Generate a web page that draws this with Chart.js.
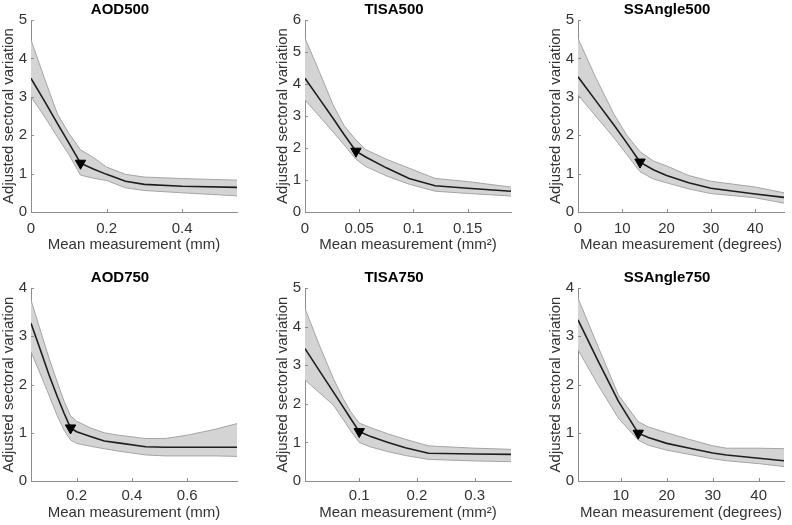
<!DOCTYPE html>
<html>
<head>
<meta charset="utf-8">
<script src="https://cdn.jsdelivr.net/npm/chart.js@4.4.1/dist/chart.umd.min.js"></script>
<style>
    body { margin: 0; background: #fff; width: 792px; height: 525px; overflow: hidden; position: relative; }
    canvas { position: absolute; }
</style>
</head>
<body>
<script>
// AOD500
const aod500X = [0, 0.035, 0.07, 0.1, 0.131, 0.165, 0.2, 0.25, 0.3, 0.4, 0.545];
const aod500Mean = [3.48, 2.9, 2.3, 1.8, 1.27, 1.12, 0.98, 0.8, 0.72, 0.67, 0.64];
const aod500Upper = [4.48, 3.5, 2.55, 2.05, 1.62, 1.42, 1.17, 0.98, 0.91, 0.87, 0.83];
const aod500Lower = [3.0, 2.5, 1.95, 1.5, 0.96, 0.88, 0.82, 0.63, 0.56, 0.5, 0.42];
const aod500Marker = [0.131, 1.27];
const aod500XTicks = [0, 0.2, 0.4];

// TISA500
const tisa500X = [0, 0.013, 0.026, 0.036, 0.047, 0.056, 0.075, 0.096, 0.12, 0.15, 0.19];
const tisa500Mean = [4.18, 3.55, 2.92, 2.42, 1.9, 1.72, 1.38, 1.05, 0.82, 0.74, 0.65];
const tisa500Upper = [5.43, 4.4, 3.34, 2.7, 2.25, 1.95, 1.65, 1.37, 1.05, 0.95, 0.78];
const tisa500Lower = [3.5, 3.0, 2.5, 2.1, 1.65, 1.42, 1.13, 0.87, 0.65, 0.58, 0.5];
const tisa500Marker = [0.047, 1.9];
const tisa500XTicks = [0, 0.05, 0.1, 0.15];

// SSAngle500
const ssangle500X = [0, 4, 8.2, 11, 14, 17, 20, 25, 30, 40, 46.5];
const ssangle500Mean = [3.52, 2.9, 2.25, 1.8, 1.3, 1.1, 0.95, 0.76, 0.62, 0.47, 0.38];
const ssangle500Upper = [4.52, 3.5, 2.53, 2.0, 1.57, 1.33, 1.2, 0.95, 0.8, 0.65, 0.5];
const ssangle500Lower = [3.05, 2.5, 1.92, 1.5, 1.05, 0.86, 0.76, 0.6, 0.48, 0.37, 0.23];
const ssangle500Marker = [14, 1.3];
const ssangle500XTicks = [0, 10, 20, 30, 40];

// AOD750
const aod750X = [0.035, 0.07, 0.1, 0.13, 0.155, 0.178, 0.2, 0.25, 0.3, 0.35, 0.45, 0.52, 0.6, 0.7, 0.78];
const aod750Mean = [3.27, 2.7, 2.2, 1.75, 1.4, 1.1, 1.02, 0.92, 0.83, 0.79, 0.71, 0.7, 0.7, 0.7, 0.7];
const aod750Upper = [3.75, 3.1, 2.55, 2.05, 1.65, 1.35, 1.24, 1.1, 1.0, 0.95, 0.88, 0.88, 0.95, 1.07, 1.19];
const aod750Lower = [2.68, 2.2, 1.78, 1.35, 1.05, 0.85, 0.78, 0.72, 0.67, 0.62, 0.54, 0.52, 0.52, 0.52, 0.51];
const aod750Marker = [0.178, 1.1];
const aod750XTicks = [0.2, 0.4, 0.6];

// TISA750
const tisa750X = [0.006, 0.03, 0.055, 0.072, 0.085, 0.1, 0.12, 0.15, 0.18, 0.22, 0.3, 0.363];
const tisa750Mean = [3.43, 2.88, 2.31, 1.92, 1.62, 1.28, 1.15, 1.0, 0.86, 0.72, 0.7, 0.69];
const tisa750Upper = [4.47, 3.55, 2.66, 2.14, 1.8, 1.5, 1.38, 1.22, 1.08, 0.91, 0.85, 0.82];
const tisa750Lower = [2.62, 2.3, 1.97, 1.6, 1.3, 1.0, 0.88, 0.76, 0.66, 0.56, 0.52, 0.5];
const tisa750Marker = [0.1, 1.28];
const tisa750XTicks = [0.1, 0.2, 0.3];

// SSAngle750
const ssangle750X = [0.7, 5, 9.5, 13.8, 16, 20, 25, 30, 33, 40, 45.5];
const ssangle750Mean = [3.34, 2.5, 1.65, 0.99, 0.9, 0.78, 0.68, 0.58, 0.54, 0.47, 0.42];
const ssangle750Upper = [3.79, 2.8, 1.78, 1.23, 1.12, 1.0, 0.86, 0.73, 0.68, 0.68, 0.67];
const ssangle750Lower = [2.72, 2.0, 1.3, 0.85, 0.74, 0.64, 0.55, 0.46, 0.42, 0.36, 0.3];
const ssangle750Marker = [13.8, 0.99];
const ssangle750XTicks = [10, 20, 30, 40];

const yTicks4 = [0, 1, 2, 3, 4];
const yTicks5 = [0, 1, 2, 3, 4, 5];
const yTicks6 = [0, 1, 2, 3, 4, 5, 6];

const yLabel = 'Adjusted sectoral variation';
const fontFamily = '"Liberation Sans", Arial, Helvetica, sans-serif';

const panels = [
    {title: 'AOD500', xLabel: 'Mean measurement (mm)', x: aod500X, mean: aod500Mean, upper: aod500Upper, lower: aod500Lower,
        marker: aod500Marker, xTicks: aod500XTicks, yTicks: yTicks5, xMin: 0, xMax: 0.545, left: 0, row: 0},
    {title: 'TISA500', xLabel: 'Mean measurement (mm\u00B2)', x: tisa500X, mean: tisa500Mean, upper: tisa500Upper, lower: tisa500Lower,
        marker: tisa500Marker, xTicks: tisa500XTicks, yTicks: yTicks6, xMin: 0, xMax: 0.19, left: 274, row: 0},
    {title: 'SSAngle500', xLabel: 'Mean measurement (degrees)', x: ssangle500X, mean: ssangle500Mean, upper: ssangle500Upper, lower: ssangle500Lower,
        marker: ssangle500Marker, xTicks: ssangle500XTicks, yTicks: yTicks5, xMin: 0, xMax: 46.5, left: 547, row: 0},
    {title: 'AOD750', xLabel: 'Mean measurement (mm)', x: aod750X, mean: aod750Mean, upper: aod750Upper, lower: aod750Lower,
        marker: aod750Marker, xTicks: aod750XTicks, yTicks: yTicks4, xMin: 0.035, xMax: 0.78, left: 0, row: 1},
    {title: 'TISA750', xLabel: 'Mean measurement (mm\u00B2)', x: tisa750X, mean: tisa750Mean, upper: tisa750Upper, lower: tisa750Lower,
        marker: tisa750Marker, xTicks: tisa750XTicks, yTicks: yTicks5, xMin: 0.006, xMax: 0.363, left: 274, row: 1},
    {title: 'SSAngle750', xLabel: 'Mean measurement (degrees)', x: ssangle750X, mean: ssangle750Mean, upper: ssangle750Upper, lower: ssangle750Lower,
        marker: ssangle750Marker, xTicks: ssangle750XTicks, yTicks: yTicks4, xMin: 0.7, xMax: 45.5, left: 547, row: 1}
];

// row geometry: canvas top, canvas height, x-axis box height, tick padding, title bottom padding
const rows = [
    {top: 0, height: 255, axisHeight: 43, tickPad: 8, titlePad: 1},
    {top: 268, height: 257, axisHeight: 44, tickPad: 6, titlePad: 3}
];

// MATLAB style inward tick marks
const inwardTicks = {
    id: 'inwardTicks',
    afterDraw(chart)
    {
        const ctx = chart.ctx;
        const area = chart.chartArea;
        ctx.save();
        ctx.strokeStyle = '#8c8c8c';
        ctx.lineWidth = 1;
        ctx.beginPath();
        chart.scales.x.ticks.forEach(t =>
        {
            const px = Math.round(chart.scales.x.getPixelForValue(t.value)) + 0.5;
            ctx.moveTo(px, area.bottom);
            ctx.lineTo(px, area.bottom - 3);
        });
        chart.scales.y.ticks.forEach(t =>
        {
            const py = Math.round(chart.scales.y.getPixelForValue(t.value)) + 0.5;
            ctx.moveTo(area.left, py);
            ctx.lineTo(area.left + 3, py);
        });
        ctx.stroke();
        ctx.restore();
    }
};

function toPoints(xs, ys)
{
    return xs.map((x, i) => ({x: x, y: ys[i]}));
}

function renderPanel(p)
{
    const row = rows[p.row];
    const canvas = document.createElement('canvas');
    canvas.width = 244;
    canvas.height = row.height;
    canvas.style.left = p.left + 'px';
    canvas.style.top = row.top + 'px';
    document.body.appendChild(canvas);

    const tickFont = {family: fontFamily, size: 15};
    const labelFont = {family: fontFamily, size: 15};

    new Chart(canvas.getContext('2d'), {
        type: 'line',
        data: {
            datasets: [
                {
                    data: toPoints(p.x, p.upper),
                    borderColor: '#a4a4a4',
                    borderWidth: 1,
                    backgroundColor: '#d4d4d4',
                    fill: '+1',
                    pointRadius: 0,
                    tension: 0,
                    order: 3
                },
                {
                    data: toPoints(p.x, p.lower),
                    borderColor: '#a4a4a4',
                    borderWidth: 1,
                    fill: false,
                    pointRadius: 0,
                    tension: 0,
                    order: 2
                },
                {
                    data: toPoints(p.x, p.mean),
                    borderColor: '#1e1e1e',
                    borderWidth: 1.6,
                    fill: false,
                    pointRadius: 0,
                    tension: 0,
                    order: 1
                },
                {
                    type: 'scatter',
                    data: [{x: p.marker[0], y: p.marker[1]}],
                    pointStyle: 'triangle',
                    rotation: 180,
                    pointRadius: 6,
                    backgroundColor: '#000',
                    borderColor: '#000',
                    order: 0
                }
            ]
        },
        options: {
            responsive: false,
            animation: false,
            events: [],
            layout: {padding: {right: 4}},
            plugins: {
                legend: {display: false},
                tooltip: {enabled: false},
                filler: {drawTime: 'beforeDatasetsDraw'},
                title: {
                    display: true,
                    text: p.title,
                    color: '#000',
                    font: {family: fontFamily, size: 15, weight: 'bold'},
                    padding: {top: 1, bottom: 1}
                }
            },
            scales: {
                x: {
                    type: 'linear',
                    min: p.xMin,
                    max: p.xMax,
                    afterBuildTicks: s => { s.ticks = p.xTicks.map(v => ({value: v})); },
                    afterFit: s => { s.height = row.axisHeight; },
                    grid: {display: false, drawTicks: false},
                    border: {color: '#8c8c8c'},
                    ticks: {
                        font: tickFont,
                        color: '#333',
                        padding: row.tickPad,
                        maxRotation: 0,
                        autoSkip: false,
                        callback: v => String(v)
                    },
                    title: {display: true, text: p.xLabel, font: labelFont, color: '#333', padding: {top: 0, bottom: row.titlePad}}
                },
                y: {
                    type: 'linear',
                    min: 0,
                    max: p.yTicks[p.yTicks.length - 1],
                    afterBuildTicks: s => { s.ticks = p.yTicks.map(v => ({value: v})); },
                    afterFit: s => { s.width = 31; },
                    grid: {display: false, drawTicks: false},
                    border: {color: '#8c8c8c'},
                    ticks: {
                        font: tickFont,
                        color: '#333',
                        padding: 4,
                        autoSkip: false,
                        callback: v => String(v)
                    },
                    title: {display: true, text: yLabel, font: labelFont, color: '#333', padding: {top: 0, bottom: 0}}
                }
            }
        },
        plugins: [inwardTicks]
    });
}

panels.forEach(renderPanel);
</script>
</body>
</html>
